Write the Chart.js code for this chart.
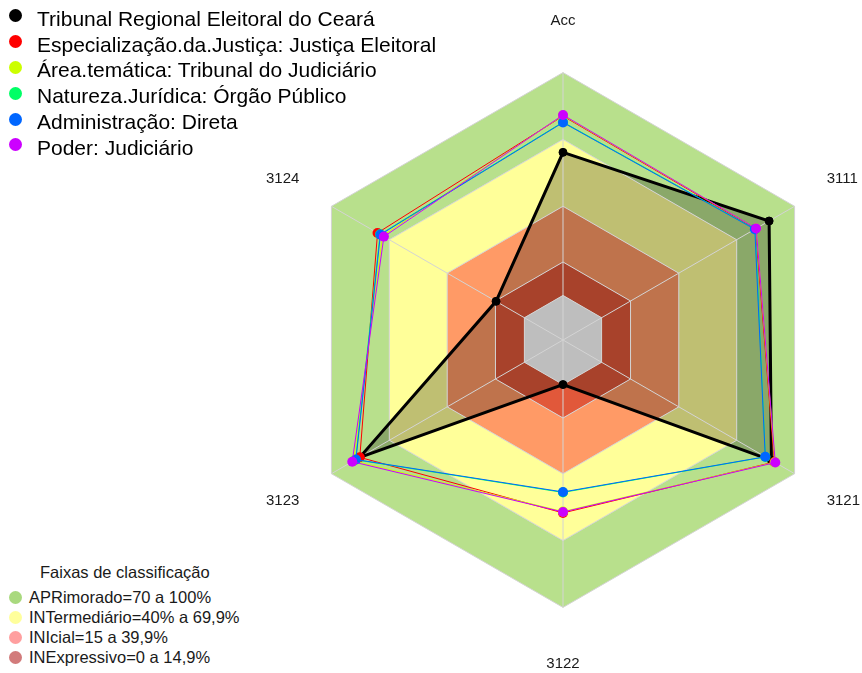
<!DOCTYPE html>
<html>
<head>
<meta charset="utf-8">
<script src="https://cdn.jsdelivr.net/npm/chart.js@4.4.1/dist/chart.umd.min.js"></script>
<style>
    html, body { margin: 0; padding: 0; width: 862px; height: 673px; overflow: hidden; background: #fff; }
    body { font-family: 'Liberation Sans', Arial, sans-serif; position: relative; }
    #wrap { position: absolute; left: 266px; top: -25px; width: 595px; height: 730px; }
    .leg { position: absolute; left: 0; z-index: 2; }
    .item { position: relative; white-space: nowrap; }
    .dot { position: absolute; border-radius: 50%; }
    #legSeries { top: 5.8px; font-size: 21px; color: #000; }
    #legSeries .item { height: 25.8px; line-height: 25.8px; padding-left: 37px; }
    #legSeries .dot { left: 9px; top: 3.6px; width: 13px; height: 13px; }
    #legFaixas { top: 562px; font-size: 16.5px; color: #1a1a1a; }
    #legFaixas .titulo { height: 20px; line-height: 20px; padding-left: 40px; margin-bottom: 5px; }
    #legFaixas .item { height: 20px; line-height: 20px; padding-left: 29px; }
    #legFaixas .dot { left: 8.5px; top: 3.5px; width: 13px; height: 13px; }
</style>
</head>
<body>
<div id="legSeries" class="leg"></div>
<div id="legFaixas" class="leg"><div class="titulo">Faixas de classificação</div></div>
<div id="wrap"><canvas id="radar"></canvas></div>
<script>
// eixos do radar
const eixos = ['Acc', '3111', '3121', '3122', '3123', '3124'];

// series (valores em %)
const tribunal = [64.2, 86.8, 88.0, 0, 85.3, 14.7];
const especializacao = [80.5, 79.8, 89.5, 57.6, 85.3, 76.1];
const areaTematica = [80.8, 80.1, 89.8, 57.0, 88.5, 73.5];
const natureza = [77.8, 79.6, 84.9, 48.4, 87.5, 74.8];
const administracao = [77.6, 79.4, 84.8, 48.2, 87.3, 74.6];
const poder = [81.0, 80.1, 90.0, 57.2, 89.2, 72.8];

const nomesSeries = [
    'Tribunal Regional Eleitoral do Ceará',
    'Especialização.da.Justiça: Justiça Eleitoral',
    'Área.temática: Tribunal do Judiciário',
    'Natureza.Jurídica: Órgão Público',
    'Administração: Direta',
    'Poder: Judiciário'
];
const valoresSeries = [tribunal, especializacao, areaTematica, natureza, administracao, poder];

// faixas de classificacao (limites do anel)
const limitesFaixas = [0, 15, 40, 70, 100];
const nomesFaixas = [
    'APRimorado=70 a 100%',
    'INTermediário=40% a 69,9%',
    'INIcial=15 a 39,9%',
    'INExpressivo=0 a 14,9%'
];
const escalaMin = -20;

// cores
const coresSeries = ['#000000', '#FF0000', '#CCFF00', '#00FF66', '#0066FF', '#CC00FF'];
const coresFaixas = ['#e1583a', '#ff9a66', '#ffff99', '#b8e08c'];   // de dentro para fora
const coresLegFaixas = ['#a9d97e', '#ffff9c', '#ff9f9f', '#d27b7b'];
const corCentro = '#bebebe';
const padRotulos = [43, 37, 37, 47, 37, 37];

// === legendas em HTML ===
const legSeries = document.getElementById('legSeries');
nomesSeries.forEach((nome, i) => {
    const d = document.createElement('div');
    d.className = 'item';
    d.innerHTML = '<span class="dot" style="background:' + coresSeries[i] + '"></span>' + nome;
    legSeries.appendChild(d);
});
const legFaixas = document.getElementById('legFaixas');
nomesFaixas.forEach((nome, i) => {
    const d = document.createElement('div');
    d.className = 'item';
    d.innerHTML = '<span class="dot" style="background:' + coresLegFaixas[i] + '"></span>' + nome;
    legFaixas.appendChild(d);
});

// === datasets ===
const datasets = [];

// series: preto embaixo, magenta em cima (order menor = desenhado por cima)
valoresSeries.forEach((vals, i) => {
    const preto = i === 0;
    datasets.push({
        label: nomesSeries[i],
        data: vals,
        borderColor: coresSeries[i],
        borderWidth: preto ? 3 : 1,
        backgroundColor: preto ? 'rgba(0,0,0,0.25)' : 'transparent',
        fill: preto ? 'start' : false,
        pointRadius: preto ? 4 : 5,
        pointBorderWidth: preto ? 1 : 0,
        pointBackgroundColor: coresSeries[i],
        pointBorderColor: coresSeries[i],
        order: 6 - i
    });
});

// centro cinza (abaixo de zero)
datasets.push({
    label: 'centro',
    data: eixos.map(() => 0),
    backgroundColor: corCentro,
    borderColor: 'transparent',
    borderWidth: 0,
    pointRadius: 0,
    fill: 'start',
    order: 0
});

// aneis das faixas
for (let i = 1; i < limitesFaixas.length; i++) {
    datasets.push({
        label: 'faixa' + i,
        data: eixos.map(() => limitesFaixas[i]),
        backgroundColor: coresFaixas[i - 1],
        borderColor: 'transparent',
        borderWidth: 0,
        pointRadius: 0,
        fill: { value: limitesFaixas[i - 1] },
        order: 6 + i
    });
}

new Chart(document.getElementById('radar'), {
    type: 'radar',
    data: { labels: eixos, datasets: datasets },
    options: {
        responsive: true,
        maintainAspectRatio: false,
        animation: false,
        layout: { padding: 0 },
        plugins: {
            legend: { display: false },
            tooltip: { enabled: false },
            filler: { drawTime: 'beforeDraw' }
        },
        elements: { line: { tension: 0 } },
        scales: {
            r: {
                min: escalaMin,
                max: 100,
                afterBuildTicks: (s) => { s.ticks = limitesFaixas.map(v => ({ value: v })); },
                ticks: { display: false },
                grid: { color: '#d4d4d4', lineWidth: 1 },
                angleLines: { color: '#d4d4d4', lineWidth: 1 },
                pointLabels: {
                    color: '#1a1a1a',
                    font: { family: "'Liberation Sans', Arial, sans-serif", size: 15 },
                    padding: (c) => padRotulos[c.index]
                }
            }
        }
    }
});
</script>
</body>
</html>
